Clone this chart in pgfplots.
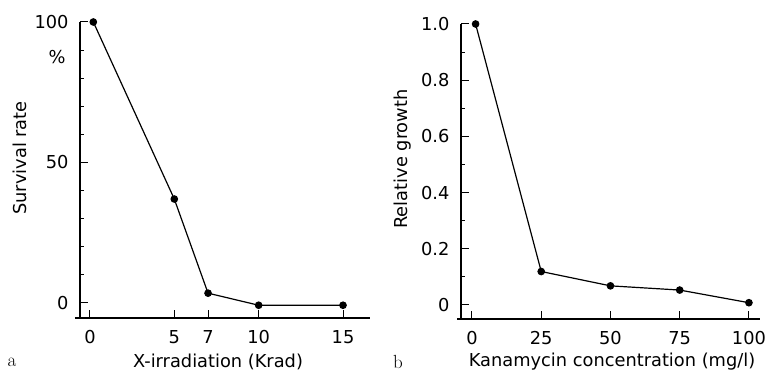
\documentclass[border=0pt]{standalone}
\usepackage{fontspec}
\setsansfont{DejaVu Sans}
\usepackage{pgfplots}
\pgfplotsset{compat=1.18}
\begin{document}
\begin{tikzpicture}[font=\sffamily\fontsize{17.8bp}{20bp}\selectfont]
\path[use as bounding box] (0,0) rectangle (781bp,373bp);
\pgfplotsset{
  mystyle/.style={
    scale only axis, anchor=south west,
    axis x line*=bottom, axis y line*=left, axis line style={-, line width=1.1bp},
    tick align=inside, major tick length=8bp, minor tick length=4bp,
    xtick style={black, line width=1bp}, ytick style={black, line width=1bp},
    minor tick style={black, line width=0.8bp},
    /pgf/number format/assume math mode=true,
    xticklabel style={yshift=-9bp},
    yticklabel style={xshift=-8bp},
    clip=false,
  },
  myline/.style={black, line width=1.2bp, mark=*, mark size=3.2bp, mark options={fill=black}},
}
\begin{axis}[mystyle, at={(80bp,55bp)}, width=290bp, height=296bp,
  xmin=-0.59, xmax=16.6, ymin=-5.34, ymax=100,
  xtick={0,5,7,10,15}, ytick={0,50,100}, minor ytick={10,20,30,40,60,70,80,90}]
\addplot[myline] coordinates {(0.2,100) (5,37) (7,3.5) (10,-0.8) (15,-0.8)};
\draw[line width=1.1bp] (axis cs:-0.9,-5.34) -- (axis cs:-0.59,-5.34);
\end{axis}
\begin{axis}[mystyle, at={(461bp,54bp)}, width=299bp, height=295bp,
  xmin=-3.97, xmax=104, ymin=-0.05, ymax=1.0,
  xtick={0,25,50,75,100}, ytick={0,0.2,0.4,0.6,0.8,1.0},
  yticklabels={0,0.2,0.4,0.6,0.8,1.0},
  minor ytick={0.1,0.3,0.5,0.7,0.9}]
\addplot[myline] coordinates {(1.3,1.0) (25,0.119) (50,0.068) (75,0.053) (100,0.008)};
\draw[line width=1.1bp] (axis cs:-5.4,-0.05) -- (axis cs:-3.97,-0.05);
\end{axis}
\node at (57bp,316bp) {\%};
\node[rotate=90] at (20bp,215bp) {Survival rate};
\node at (218bp,11bp) {X-irradiation (Krad)};
\node at (12bp,11bp) {\rmfamily\fontsize{19bp}{21bp}\selectfont a};
\node[rotate=90] at (403bp,214bp) {Relative growth};
\node at (612bp,11bp) {Kanamycin concentration (mg/l)};
\node at (398bp,11bp) {\rmfamily\fontsize{19bp}{21bp}\selectfont b};
\end{tikzpicture}
\end{document}
